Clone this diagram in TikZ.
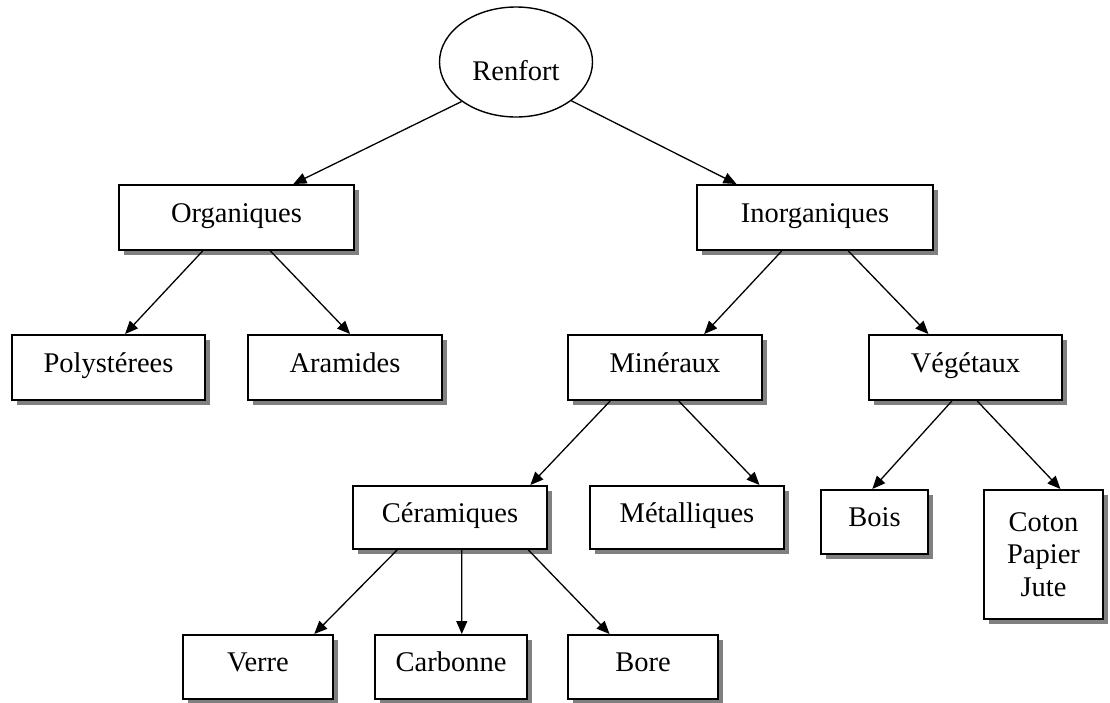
\documentclass[tikz,border=0pt]{standalone}
\usepackage{fontspec}
\setmainfont{Liberation Serif}
\usetikzlibrary{shapes.geometric,arrows.meta,shadows,calc}
\begin{document}
\begin{tikzpicture}[x=1pt,y=-1pt,
  every node/.style={font=\fontsize{28.5}{33}\selectfont},
  boxnode/.style={draw, line width=2pt, fill=white, inner sep=0pt,
    text height=19pt, text depth=10pt,
    drop shadow={shadow xshift=5pt, shadow yshift=-5pt, fill=black!50, opacity=1}},
  conn/.style={line width=1.3pt, -{Triangle[length=13pt,width=11pt]}}]
\useasboundingbox[fill=white] (0,0) rectangle (1110,702);

\node[ellipse, draw, line width=1.4pt, minimum width=153pt, minimum height=110pt,
      inner sep=0pt, text height=36pt, text depth=0pt] (renfort) at (516,62) {Renfort};

\node[boxnode, minimum width=235pt, minimum height=65pt] (org)   at (236.5,217.5) {Organiques};
\node[boxnode, minimum width=236pt, minimum height=65pt] (inorg) at (815,217.5)   {Inorganiques};
\node[boxnode, minimum width=193pt, minimum height=65pt] (poly)  at (108.5,367.5) {Polystérees};
\node[boxnode, minimum width=194pt, minimum height=65pt] (aram)  at (345,367.5)   {Aramides};
\node[boxnode, minimum width=194pt, minimum height=65pt] (mine)  at (665,367.5)   {Minéraux};
\node[boxnode, minimum width=193pt, minimum height=65pt] (vege)  at (965.5,367.5) {Végétaux};
\node[boxnode, minimum width=194pt, minimum height=63pt] (cera)  at (450,517.5)   {Céramiques};
\node[boxnode, minimum width=194pt, minimum height=63pt] (meta)  at (687,517.5)   {Métalliques};
\node[boxnode, minimum width=107pt, minimum height=64pt] (bois)  at (874.5,522)   {Bois};
\node[draw, line width=2pt, fill=white, inner sep=0pt, align=center,
      minimum width=119pt, minimum height=129pt,
      drop shadow={shadow xshift=5pt, shadow yshift=-5pt, fill=black!50, opacity=1},
      font=\fontsize{28.5}{32.5}\selectfont] (coton) at (1043.5,554.5) {Coton\\Papier\\Jute};
\node[boxnode, minimum width=150pt, minimum height=64pt] (verre) at (258,667)     {Verre};
\node[boxnode, minimum width=152pt, minimum height=64pt] (carb)  at (451,667)     {Carbonne};
\node[boxnode, minimum width=150pt, minimum height=64pt] (bore)  at (643,667)     {Bore};

\draw[conn] (renfort.216) -- ($(org.north west)!0.74!(org.north east)$);
\draw[conn] (renfort.325) -- ($(inorg.north west)!0.17!(inorg.north east)$);

\draw[conn] ($(org.south west)!0.357!(org.south east)$) -- ($(poly.north west)!0.585!(poly.north east)$);
\draw[conn] ($(org.south west)!0.643!(org.south east)$) -- ($(aram.north west)!0.526!(aram.north east)$);

\draw[conn] ($(inorg.south west)!0.36!(inorg.south east)$) -- ($(mine.north west)!0.70!(mine.north east)$);
\draw[conn] ($(inorg.south west)!0.64!(inorg.south east)$) -- ($(vege.north west)!0.31!(vege.north east)$);

\draw[conn] ($(mine.south west)!0.22!(mine.south east)$) -- ($(cera.north west)!0.91!(cera.north east)$);
\draw[conn] ($(mine.south west)!0.57!(mine.south east)$) -- ($(meta.north west)!0.87!(meta.north east)$);

\draw[conn] ($(vege.south west)!0.43!(vege.south east)$) -- ($(bois.north west)!0.48!(bois.north east)$);
\draw[conn] ($(vege.south west)!0.56!(vege.south east)$) -- ($(coton.north west)!0.64!(coton.north east)$);

\draw[conn] ($(cera.south west)!0.23!(cera.south east)$) -- ($(verre.north west)!0.87!(verre.north east)$);
\draw[conn] ($(cera.south west)!0.56!(cera.south east)$) -- ($(carb.north west)!0.57!(carb.north east)$);
\draw[conn] ($(cera.south west)!0.90!(cera.south east)$) -- ($(bore.north west)!0.28!(bore.north east)$);
\end{tikzpicture}
\end{document}
